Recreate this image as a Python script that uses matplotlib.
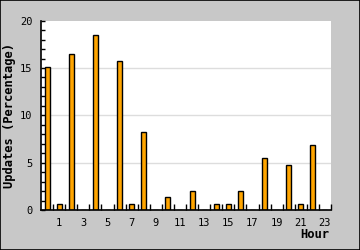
import numpy as np
import matplotlib
matplotlib.use("Agg")
import matplotlib.pyplot as plt
from matplotlib.patches import Rectangle

# hourly share of updates (percent)
hours = list(range(24))
updates_pct = [15.07, 0.68, 16.44, 0.0, 18.49, 0.0, 15.75, 0.68,
               8.22, 0.0, 1.37, 0.0, 2.05, 0.0, 0.68, 0.68,
               2.05, 0.0, 5.48, 0.0, 4.79, 0.68, 6.85, 0.0]
label_hours = list(range(1, 24, 2))
y_major = [0, 5, 10, 15, 20]

mono = "DejaVu Sans Mono"
bg = "#c8c8c8"

fig = plt.figure(figsize=(3.6, 2.5), dpi=100, facecolor=bg)
ax = fig.add_axes([41 / 360, 1 - 210 / 250, 290 / 360, 189.3 / 250])
ax.set_facecolor("white")

ax.bar(hours, updates_pct, width=0.42, color="#ffa500", edgecolor="black",
       linewidth=1.0, zorder=3)

ax.set_xlim(-0.5, 23.5)
ax.set_ylim(0, 20)

# labels on odd hours, small marks between categories
ax.set_xticks(label_hours)
ax.set_xticklabels([str(h) for h in label_hours], fontfamily=mono, fontsize=7.5)
ax.set_xticks(np.arange(0.5, 24, 1.0), minor=True)
ax.tick_params(axis="x", which="major", length=0, pad=6)
ax.tick_params(axis="x", which="minor", direction="in", length=4, width=1, color="black")

ax.set_yticks(y_major)
ax.set_yticklabels([str(v) for v in y_major], fontfamily=mono, fontsize=7.5)
ax.set_yticks(np.arange(0, 21, 1), minor=True)
ax.tick_params(axis="y", which="both", direction="in", length=3, width=1, pad=6)

for v in [5, 10, 15]:
    ax.axhline(v, color="#dddddd", linewidth=1, zorder=1)

for side in ["top", "right"]:
    ax.spines[side].set_visible(False)
for side in ["left", "bottom"]:
    ax.spines[side].set_linewidth(1.2)
    ax.spines[side].set_zorder(4)

fig.text(10 / 360, 1 - 115 / 250, "Updates (Percentage)", rotation=90,
         ha="center", va="center", fontfamily=mono, fontweight="bold", fontsize=8.7)
fig.text(329 / 360, 1 - 235 / 250, "Hour", ha="right", va="center",
         fontfamily=mono, fontweight="bold", fontsize=8.7)

# thin dark frame round the whole image
fig.patches.append(Rectangle((0, 0), 1, 1, transform=fig.transFigure, fill=False,
                             edgecolor="black", linewidth=1.2))

fig.savefig("out.png", dpi=100, facecolor=bg)
